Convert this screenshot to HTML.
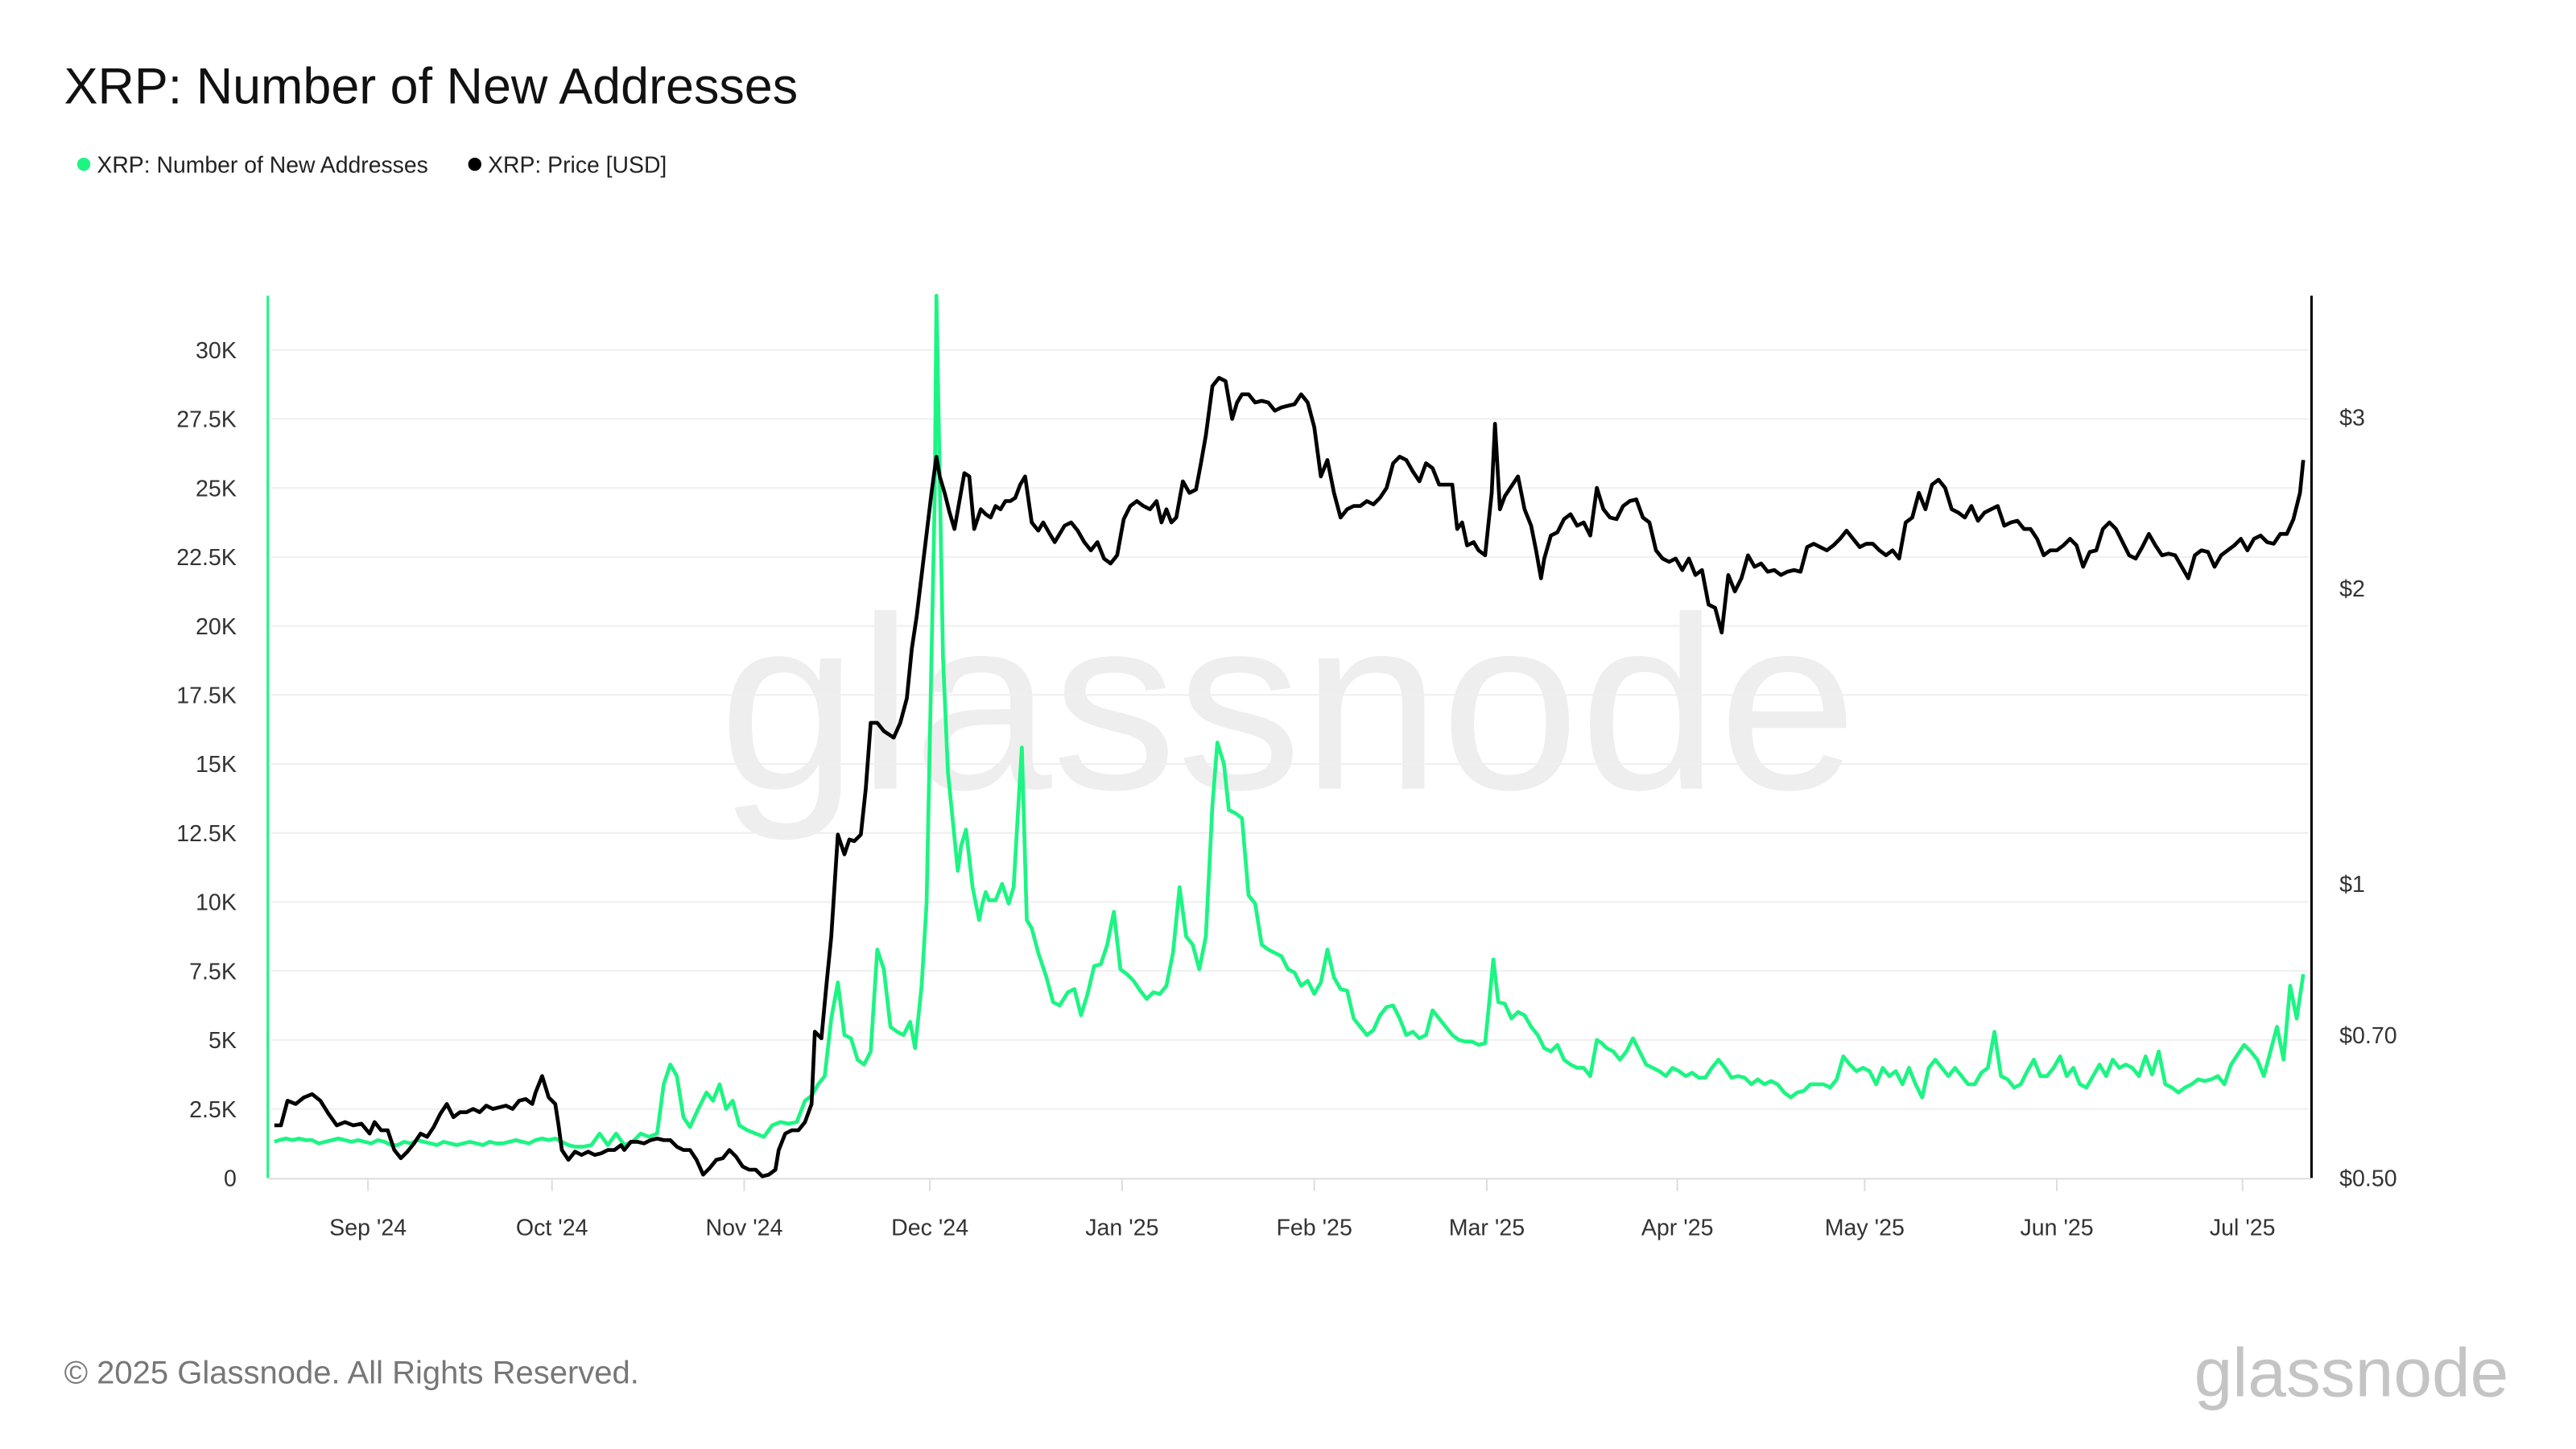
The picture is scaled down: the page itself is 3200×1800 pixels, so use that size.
<!DOCTYPE html>
<html><head><meta charset="utf-8"><style>
html,body{margin:0;padding:0;background:#fff;}
svg{display:block;font-family:"Liberation Sans",Arial,sans-serif;}
</style></head><body>
<svg width="3200" height="1800" viewBox="0 0 1568 882" xmlns="http://www.w3.org/2000/svg">
<rect width="1568" height="882" fill="#fff"/>
<text x="39" y="63" font-size="30.8" fill="#111">XRP: Number of New Addresses</text>
<circle cx="51" cy="100" r="4" fill="#1cf583"/>
<text x="59" y="105" font-size="13.9" fill="#222">XRP: Number of New Addresses</text>
<circle cx="289" cy="100" r="4" fill="#000"/>
<text x="297" y="105" font-size="13.9" fill="#222">XRP: Price [USD]</text>
<text x="784" y="480" font-size="150" fill="#eeeeee" text-anchor="middle" textLength="693" lengthAdjust="spacingAndGlyphs">glassnode</text>
<g stroke="#efefef" stroke-width="1">
<line x1="165" x2="1405" y1="675" y2="675"/><line x1="165" x2="1405" y1="633" y2="633"/>
<line x1="165" x2="1405" y1="591" y2="591"/><line x1="165" x2="1405" y1="549" y2="549"/>
<line x1="165" x2="1405" y1="507" y2="507"/><line x1="165" x2="1405" y1="465" y2="465"/>
<line x1="165" x2="1405" y1="423" y2="423"/><line x1="165" x2="1405" y1="381" y2="381"/>
<line x1="165" x2="1405" y1="339" y2="339"/><line x1="165" x2="1405" y1="297" y2="297"/>
<line x1="165" x2="1405" y1="255" y2="255"/><line x1="165" x2="1405" y1="213" y2="213"/>
</g>
<line x1="163" x2="1407" y1="717.5" y2="717.5" stroke="#ddd" stroke-width="1"/>
<g stroke="#ddd" stroke-width="1">
<line x1="224" x2="224" y1="718" y2="725"/><line x1="336" x2="336" y1="718" y2="725"/>
<line x1="453" x2="453" y1="718" y2="725"/><line x1="566" x2="566" y1="718" y2="725"/>
<line x1="683" x2="683" y1="718" y2="725"/><line x1="800" x2="800" y1="718" y2="725"/>
<line x1="905" x2="905" y1="718" y2="725"/><line x1="1021" x2="1021" y1="718" y2="725"/>
<line x1="1135" x2="1135" y1="718" y2="725"/><line x1="1252" x2="1252" y1="718" y2="725"/>
<line x1="1365" x2="1365" y1="718" y2="725"/>
</g>
<g font-size="14" fill="#333" text-anchor="middle">
<text x="224" y="752">Sep '24</text><text x="336" y="752">Oct '24</text><text x="453" y="752">Nov '24</text>
<text x="566" y="752">Dec '24</text><text x="683" y="752">Jan '25</text><text x="800" y="752">Feb '25</text>
<text x="905" y="752">Mar '25</text><text x="1021" y="752">Apr '25</text><text x="1135" y="752">May '25</text>
<text x="1252" y="752">Jun '25</text><text x="1365" y="752">Jul '25</text>
</g>
<g font-size="14" fill="#333" text-anchor="end">
<text x="144" y="722">0</text><text x="144" y="680">2.5K</text><text x="144" y="638">5K</text>
<text x="144" y="596">7.5K</text><text x="144" y="554">10K</text><text x="144" y="512">12.5K</text>
<text x="144" y="470">15K</text><text x="144" y="428">17.5K</text><text x="144" y="386">20K</text>
<text x="144" y="344">22.5K</text><text x="144" y="302">25K</text><text x="144" y="260">27.5K</text>
<text x="144" y="218">30K</text>
</g>
<g font-size="14" fill="#333">
<text x="1424" y="259">$3</text><text x="1424" y="363">$2</text><text x="1424" y="543">$1</text>
<text x="1424" y="635">$0.70</text><text x="1424" y="722">$0.50</text>
</g>
<line x1="163" x2="163" y1="180" y2="717" stroke="#1cf583" stroke-width="1.5"/>
<line x1="1407" x2="1407" y1="180" y2="717" stroke="#000" stroke-width="1.5"/>
<polyline fill="none" stroke="#1cf583" stroke-width="2.3" stroke-linejoin="round" points="167,695 170,694 174,693 178,694 182,693 186,694 190,694 194,696 198,695 202,694 206,693 210,694 214,695 218,694 222,695 226,696 230,694 234,695 238,697 242,697 246,695 250,696 254,694 258,695 262,696 266,697 270,695 274,696 278,697 282,696 286,695 290,696 294,697 298,695 302,696 306,696 310,695 314,694 318,695 322,696 326,694 330,693 334,694 338,693 342,695 346,697 350,698 355,698 360,697 365,690 370,697 375,690 380,697 385,695 390,690 395,692 400,690 404,660 408,648 412,655 416,680 420,686 425,675 430,665 434,670 438,660 442,675 446,670 450,685 455,688 460,690 465,692 470,685 475,683 480,684 485,683 490,670 494,667 498,660 502,655 506,620 510,598 514,630 518,632 522,645 526,648 530,640 534,578 538,590 542,625 546,628 550,630 554,622 557,638 561,600 564,550 567,400 569,300 570,180 572,290 574,400 577,470 580,500 583,530 585,515 588,505 592,540 596,560 598,550 600,543 602,548 606,548 610,538 614,550 617,540 619,505 622,455 625,560 628,565 632,580 637,595 641,610 645,612 650,604 654,602 658,618 662,605 666,588 670,587 674,575 678,555 682,590 686,593 690,597 694,603 698,608 702,604 706,605 710,600 714,580 718,540 722,570 726,575 730,590 734,570 738,490 741,452 745,465 748,493 752,495 756,498 760,545 764,550 768,575 772,578 776,580 780,582 784,590 788,592 792,600 796,597 800,605 804,598 808,578 812,595 816,602 820,603 824,620 828,625 832,630 836,627 840,618 844,613 848,612 852,620 856,630 860,628 864,632 868,630 872,615 876,620 880,625 884,630 888,633 892,634 896,634 900,636 904,635 906,615 909,584 912,610 916,611 920,620 924,616 928,618 932,625 936,630 940,638 944,640 948,636 952,645 956,648 960,650 964,650 968,655 972,633 975,635 978,638 982,640 986,645 990,640 994,632 998,640 1002,648 1006,650 1010,652 1014,655 1018,650 1022,652 1026,655 1030,653 1034,656 1038,656 1042,650 1046,645 1050,650 1054,656 1058,655 1062,656 1066,660 1070,657 1074,660 1078,658 1082,660 1086,665 1090,668 1094,665 1098,664 1102,660 1106,660 1110,660 1114,662 1118,657 1122,643 1126,648 1130,652 1134,650 1138,652 1142,660 1146,650 1150,655 1154,652 1158,660 1162,650 1166,660 1170,668 1174,650 1178,645 1182,650 1186,655 1190,650 1194,655 1198,660 1202,660 1206,653 1210,650 1214,628 1218,655 1222,657 1226,662 1230,660 1234,652 1238,645 1242,655 1246,655 1250,650 1254,643 1258,655 1262,650 1266,660 1270,662 1274,655 1278,648 1282,655 1286,645 1290,650 1294,648 1298,650 1302,655 1306,643 1310,654 1314,640 1318,660 1322,662 1326,665 1330,662 1334,660 1338,657 1342,658 1346,657 1350,655 1354,660 1358,648 1362,642 1366,636 1370,640 1374,645 1378,655 1382,640 1386,625 1390,645 1394,600 1398,620 1402,593"/>
<polyline fill="none" stroke="#000" stroke-width="2.3" stroke-linejoin="round" points="167,685 171,685 175,670 180,672 185,668 190,666 195,670 200,678 205,685 210,683 215,685 220,684 225,690 228,683 232,688 236,688 240,700 244,705 248,701 252,696 256,690 260,692 264,686 268,678 272,672 276,680 280,677 284,677 288,675 292,677 296,673 300,675 304,674 308,673 312,675 316,670 320,669 324,672 326,665 330,655 334,668 338,672 340,685 342,700 346,706 350,701 354,703 358,701 362,703 366,702 370,700 374,700 378,697 380,700 384,695 388,695 392,696 396,694 400,693 404,694 408,694 412,698 416,700 420,700 424,706 428,715 432,711 436,706 440,705 444,700 448,704 452,710 456,712 460,712 464,716 468,715 472,712 474,700 478,690 482,688 486,688 490,683 494,672 496,628 500,632 503,600 506,570 510,508 514,520 517,511 520,512 524,508 527,480 530,440 534,440 538,445 544,449 548,440 552,425 555,395 558,375 561,350 564,325 567,300 570,278 572,290 575,300 578,312 581,322 584,305 587,288 590,290 593,322 597,310 600,313 603,315 606,308 609,310 612,305 615,305 618,303 621,295 624,290 628,318 632,323 635,318 639,325 642,330 645,325 648,320 652,318 656,323 660,330 664,335 668,330 672,340 676,343 680,338 684,316 688,308 692,305 696,308 700,310 704,305 707,318 710,310 713,318 716,315 720,293 724,300 728,298 731,282 734,265 738,235 742,230 746,232 750,255 753,245 756,240 760,240 764,245 768,244 772,245 776,250 780,248 784,247 788,246 792,240 796,245 800,260 804,290 808,280 812,300 816,315 820,310 824,308 828,308 832,305 836,307 840,303 844,297 848,282 852,278 856,280 860,287 864,293 868,282 872,285 876,295 880,295 884,295 887,322 890,318 893,332 897,330 900,335 904,338 908,300 910,258 913,310 916,302 920,296 924,290 928,310 932,320 935,335 938,352 940,340 944,326 948,324 952,316 956,313 960,320 964,318 968,326 972,297 976,310 980,315 984,316 988,308 992,305 996,304 1000,315 1004,318 1008,335 1012,340 1016,342 1020,340 1024,347 1028,340 1032,350 1036,347 1040,368 1044,370 1048,385 1052,350 1056,360 1060,352 1064,338 1068,345 1072,343 1076,348 1080,347 1084,350 1088,348 1092,347 1096,348 1100,333 1104,331 1108,333 1112,335 1116,332 1120,328 1124,323 1128,328 1132,333 1136,331 1140,331 1144,335 1148,338 1152,335 1156,340 1160,318 1164,315 1168,300 1172,310 1176,295 1180,292 1184,297 1188,310 1192,312 1196,315 1200,308 1204,317 1208,312 1212,310 1216,308 1220,320 1224,318 1228,317 1232,322 1236,322 1240,328 1244,338 1248,335 1252,335 1256,332 1260,328 1264,332 1268,345 1272,336 1276,335 1280,322 1284,318 1288,322 1292,330 1296,338 1300,340 1304,333 1308,325 1312,332 1316,338 1320,337 1324,338 1328,345 1332,352 1336,338 1340,335 1344,336 1348,345 1352,338 1356,335 1360,332 1364,328 1368,335 1372,328 1376,326 1380,330 1384,331 1388,325 1392,325 1396,316 1400,300 1402,280"/>
<text x="39" y="842" font-size="19.6" fill="#777">© 2025 Glassnode. All Rights Reserved.</text>
<text x="1527" y="850" font-size="42" fill="#c4c4c4" text-anchor="end">glassnode</text>
</svg>
</body></html>
